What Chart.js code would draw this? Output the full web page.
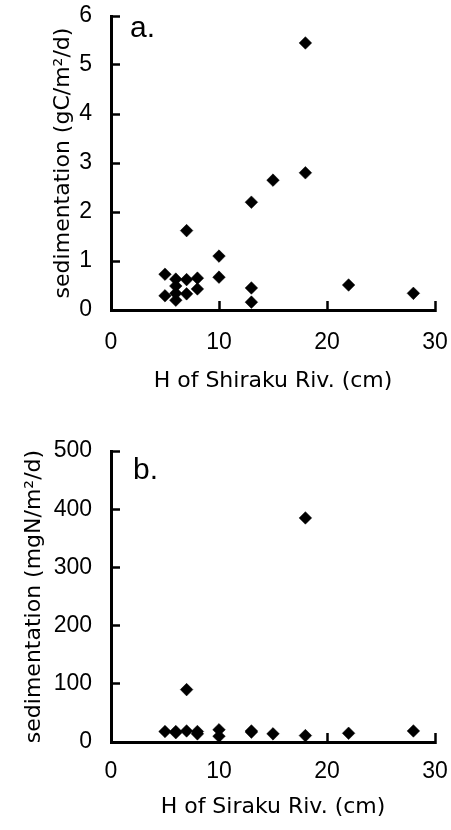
<!DOCTYPE html>
<html>
<head>
<meta charset="utf-8">
<script src="https://cdn.jsdelivr.net/npm/chart.js@4.4.0/dist/chart.umd.min.js"></script>
<style>
  html, body { margin: 0; padding: 0; background: #fff; }
  #wrap { position: relative; width: 451px; height: 830px; }
  canvas { position: absolute; left: 0; }
</style>
</head>
<body>
<div id="wrap">
  <canvas id="carbon" width="451" height="415" style="top:0"></canvas>
  <canvas id="nitrogen" width="451" height="415" style="top:415px"></canvas>
</div>
<script>
// water depth H (cm) vs. sedimentation rate, panel a: carbon, panel b: nitrogen
const depthC = [5, 5, 6, 6, 6, 6, 7, 7, 7, 8, 8, 10, 10, 13, 13, 13, 15, 18, 18, 22, 28];
const sedC   = [0.73, 0.29, 0.63, 0.49, 0.34, 0.20, 1.62, 0.62, 0.33, 0.65, 0.43,
                1.10, 0.67, 2.20, 0.45, 0.16, 2.65, 5.45, 2.80, 0.51, 0.34];

const depthN = [5, 6, 6, 7, 7, 8, 8, 10, 10, 13, 13, 15, 18, 18, 22, 28];
const sedN   = [18, 18, 16, 90, 19, 18, 14, 21, 10, 19, 17, 14, 385, 11, 15, 19];

const xTicks = [0, 10, 20, 30];

Chart.defaults.color = '#000';
Chart.defaults.animation = false;

const TICK_FONT  = { family: '"Liberation Sans", Arial, sans-serif', size: 23 };
const TITLE_FONT = { family: '"DejaVu Sans", sans-serif', size: 22 };

// "a." / "b." tag in the upper-left corner of the plot
const panelTag = {
  id: 'panelTag',
  afterDraw(chart, args, opts) {
    const { ctx, chartArea } = chart;
    ctx.save();
    ctx.font = '30px "Liberation Sans", Arial, sans-serif';
    ctx.fillStyle = '#000';
    ctx.textBaseline = 'alphabetic';
    ctx.fillText(opts.text, chartArea.left + opts.dx, chartArea.top + opts.dy);
    ctx.restore();
  }
};

function points(xs, ys) {
  return xs.map((x, i) => ({ x, y: ys[i] }));
}

function makeChart(id, cfg) {
  return new Chart(document.getElementById(id), {
    type: 'scatter',
    data: { datasets: [{
      data: points(cfg.xs, cfg.ys),
      pointStyle: 'rectRot', pointRadius: 6.3,
      backgroundColor: '#000', borderColor: '#000', borderWidth: 0.5,
    }]},
    options: {
      responsive: false, devicePixelRatio: 1,
      layout: { padding: { left: 0, right: 16, top: cfg.top, bottom: 0 } },
      plugins: {
        legend: { display: false }, tooltip: { enabled: false },
        panelTag: cfg.tag,
      },
      scales: {
        x: {
          type: 'linear', min: 0, max: 30,
          // fixed band under the plot; label overhang is covered by layout padding
          afterFit: s => { s.height = cfg.xHeight; s.paddingLeft = 0; s.paddingRight = 0; },
          afterBuildTicks: s => { s.ticks = xTicks.map(v => ({ value: v })); },
          border: { display: true, color: '#000', width: 3 },
          grid: { display: true, drawOnChartArea: false, drawTicks: true,
                  tickLength: -9, tickColor: '#000', tickWidth: 2.5 },
          ticks: { font: TICK_FONT, color: '#000', padding: cfg.xPad, maxRotation: 0 },
          title: { display: true, text: cfg.xTitle, font: TITLE_FONT, color: '#000',
                   padding: { top: 0, bottom: cfg.xTitlePad } },
        },
        y: {
          type: 'linear', min: 0, max: cfg.yMax,
          afterFit: s => { s.width = 111; s.paddingTop = 0; s.paddingBottom = 0; },
          border: { display: true, color: '#000', width: 3 },
          grid: { display: true, drawOnChartArea: false, drawTicks: true,
                  tickLength: -9, tickColor: '#000', tickWidth: 2.5 },
          ticks: { font: TICK_FONT, color: '#000', padding: 28, stepSize: cfg.yStep },
          title: { display: true, text: cfg.yTitle, font: TITLE_FONT, color: '#000',
                   padding: { top: cfg.yTitlePad, bottom: 0 } },
        },
      },
    },
    plugins: [panelTag],
  });
}

makeChart('carbon', {
  xs: depthC, ys: sedC, yMax: 6, yStep: 1, top: 16, xHeight: 105,
  xPad: 28, xTitlePad: 21, yTitlePad: 50,
  xTitle: 'H of Shiraku Riv. (cm)', yTitle: 'sedimentation (gC/m²/d)',
  tag: { text: 'a.', dx: 19, dy: 21 },
});

makeChart('nitrogen', {
  xs: depthN, ys: sedN, yMax: 500, yStep: 100, top: 36, xHeight: 88,
  xPad: 25, xTitlePad: 10, yTitlePad: 21,
  xTitle: 'H of Siraku Riv. (cm)', yTitle: 'sedimentation (mgN/m²/d)',
  tag: { text: 'b.', dx: 22, dy: 28 },
});
</script>
</body>
</html>
